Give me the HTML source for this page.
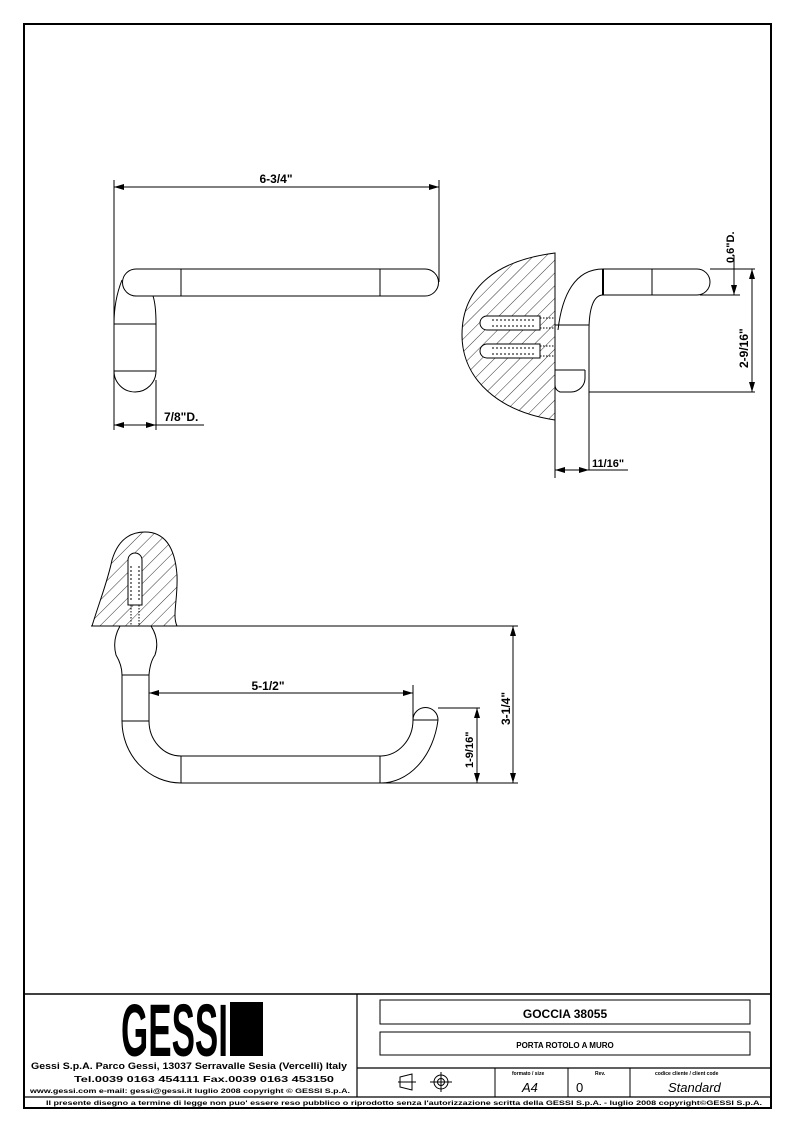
<!DOCTYPE html>
<html><head><meta charset="utf-8"><style>
html,body{margin:0;padding:0;background:#fff}
svg{display:block}
text{font-family:"Liberation Sans",sans-serif;font-weight:bold;fill:#000}
</style></head><body>
<svg width="794" height="1123" viewBox="0 0 794 1123" xmlns="http://www.w3.org/2000/svg">
<defs>
<pattern id="h" patternUnits="userSpaceOnUse" width="9" height="9" patternTransform="rotate(45)">
<line x1="0" y1="0" x2="0" y2="9" stroke="#000" stroke-width="0.8"/>
</pattern>
<marker id="a" markerWidth="10" markerHeight="6" refX="10" refY="3" orient="auto-start-reverse" markerUnits="userSpaceOnUse">
<path d="M0,0 L10,3 L0,6 z" fill="#000"/>
</marker>
</defs>
<g fill="none" stroke="#000">
<rect x="24" y="24" width="747" height="1084" stroke-width="2"/>
<line x1="24" y1="994" x2="771" y2="994" stroke-width="1.5"/>
<line x1="357" y1="994" x2="357" y2="1097" stroke-width="1.2"/>
<line x1="24" y1="1097" x2="771" y2="1097" stroke-width="1.2"/>
<line x1="357" y1="1068" x2="771" y2="1068" stroke-width="1.2"/>
<rect x="380" y="1000" width="370" height="24" stroke-width="1"/>
<rect x="380" y="1032" width="370" height="23" stroke-width="1"/>
<line x1="495" y1="1068" x2="495" y2="1097"/>
<line x1="568" y1="1068" x2="568" y2="1097"/>
<line x1="630" y1="1068" x2="630" y2="1097"/>
<path d="M400,1077 L412,1074 L412,1090 L400,1087 z M398,1082 L416,1082"/>
<circle cx="441" cy="1082" r="7"/><circle cx="441" cy="1082" r="3.5"/>
<path d="M430,1082 H452 M441,1072 V1092"/>

<g stroke-width="1">
<line x1="114" y1="180" x2="114" y2="430"/>
<line x1="439" y1="180" x2="439" y2="282"/>
<line x1="114" y1="187" x2="439" y2="187" marker-start="url(#a)" marker-end="url(#a)"/>
<path d="M136,269 H425 A13.5,13.5 0 0 1 425,296 H136 A13.5,13.5 0 0 1 136,269 z"/>
<line x1="181" y1="269" x2="181" y2="296"/><line x1="380" y1="269" x2="380" y2="296"/>
<path d="M122,280 Q114,300 114,324 V371 A21,21 0 0 0 156,371 V324 Q156,305 153,296"/>
<line x1="114" y1="324" x2="156" y2="324"/><line x1="114" y1="371" x2="156" y2="371"/>
<line x1="156" y1="380" x2="156" y2="430"/>
<line x1="114" y1="425" x2="156" y2="425" marker-start="url(#a)" marker-end="url(#a)"/>
<line x1="156" y1="425" x2="204" y2="425"/>
</g>

<g stroke-width="1">
<path d="M555,253 C500,260 462,285 462,335 C462,380 500,412 555,420 z" fill="url(#h)"/>
<line x1="555" y1="253" x2="555" y2="478"/>
<path d="M487,316 H540 V330 H487 A7,7 0 0 1 487,316 z M487,344 H540 V358 H487 A7,7 0 0 1 487,344 z" fill="#fff"/>
<path d="M492,320 H535 M492,326 H535 M492,348 H535 M492,354 H535" stroke-dasharray="2,2"/>
<path d="M540,318 H555 M540,328 H555 M540,346 H555 M540,356 H555" stroke-dasharray="1.5,1.5"/>
<path d="M558,330 C562,295 575,269 603,269 H697 A13,13 0 0 1 697,295 H603 C593,295 589,310 589,330"/>
<line x1="603" y1="269" x2="603" y2="295" stroke-width="2"/>
<line x1="652" y1="269" x2="652" y2="295"/>
<path d="M555,325 H589 M555,370 H585 M589,330 V470"/>
<path d="M585,370 V378 A14,14 0 0 1 571,392 H560 Q555,390 555,385"/>
<line x1="589" y1="392" x2="755" y2="392"/>
<line x1="710" y1="269" x2="755" y2="269"/>
<line x1="700" y1="295" x2="740" y2="295"/>
<line x1="752" y1="269" x2="752" y2="392" marker-start="url(#a)" marker-end="url(#a)"/>
<line x1="734" y1="255" x2="734" y2="295" marker-end="url(#a)"/>
<line x1="555" y1="470" x2="589" y2="470" marker-start="url(#a)" marker-end="url(#a)"/>
<line x1="589" y1="470" x2="628" y2="470"/>
</g>

<g stroke-width="1">
<path d="M92,626 C100,600 108,580 112,560 C118,540 130,532 145,532 C165,532 175,548 177,575 C178,600 172,615 177,626 z" fill="url(#h)"/>
<path d="M128,560 A7,7 0 0 1 142,560 V605 H128 z" fill="#fff"/>
<path d="M131,566 V600 M139,566 V600" stroke-dasharray="2,2"/>
<path d="M131,605 V625 M139,605 V625" stroke-dasharray="1.5,1.5"/>
<line x1="91" y1="626" x2="518" y2="626"/>
<path d="M120,626 Q112,640 116,655 Q122,665 122,675 V721 A59,62 0 0 0 181,783 H380 A58,75 0 0 0 438,720 A12,12 0 0 0 413,720 A33,36 0 0 1 380,756 H181 A32,35 0 0 1 149,721 V675 Q150,662 155,655 Q160,640 151,626"/>
<path d="M122,675 H149 M122,721 H149 M181,756 V783 M380,756 V783 M413,720 H438"/>
<line x1="149" y1="680" x2="149" y2="700"/>
<line x1="413" y1="685" x2="413" y2="720"/>
<line x1="149" y1="693" x2="413" y2="693" marker-start="url(#a)" marker-end="url(#a)"/>
<line x1="438" y1="708" x2="480" y2="708"/>
<line x1="380" y1="783" x2="518" y2="783"/>
<line x1="477" y1="708" x2="477" y2="783" marker-start="url(#a)" marker-end="url(#a)"/>
<line x1="513" y1="626" x2="513" y2="783" marker-start="url(#a)" marker-end="url(#a)"/>
</g>
</g>

<text x="276" y="183" font-size="12" text-anchor="middle">6-3/4"</text>
<text x="164" y="421" font-size="12">7/8"D.</text>
<text x="592" y="467" font-size="11">11/16"</text>
<text transform="translate(734,263) rotate(-90)" font-size="11">0.6"D.</text>
<text transform="translate(748,368) rotate(-90)" font-size="12">2-9/16"</text>
<text x="268" y="690" font-size="12" text-anchor="middle">5-1/2"</text>
<text transform="translate(473,768) rotate(-90)" font-size="11">1-9/16"</text>
<text transform="translate(510,725) rotate(-90)" font-size="12">3-1/4"</text>

<text transform="translate(121,1056) scale(1,1.85)" font-size="40" textLength="107" lengthAdjust="spacingAndGlyphs">GESSI</text>
<rect x="230" y="1002" width="33" height="54" fill="#000"/>
<text x="31" y="1069" font-size="9" textLength="316" lengthAdjust="spacingAndGlyphs">Gessi S.p.A. Parco Gessi, 13037 Serravalle Sesia (Vercelli) Italy</text>
<text x="74" y="1082" font-size="8.5" textLength="260" lengthAdjust="spacingAndGlyphs">Tel.0039 0163 454111 Fax.0039 0163 453150</text>
<text x="30" y="1093" font-size="6" textLength="320" lengthAdjust="spacingAndGlyphs">www.gessi.com e-mail: gessi@gessi.it   luglio 2008   copyright © GESSI S.p.A.</text>
<text x="565" y="1018" font-size="12" text-anchor="middle">GOCCIA 38055</text>
<text x="565" y="1048" font-size="8" text-anchor="middle">PORTA ROTOLO A MURO</text>
<text x="512" y="1075" font-size="5">formato / size</text>
<text x="595" y="1075" font-size="5">Rev.</text>
<text x="655" y="1075" font-size="5">codice cliente / client code</text>
<text x="522" y="1092" font-size="13" font-style="italic" style="font-weight:normal">A4</text>
<text x="576" y="1092" font-size="13" style="font-weight:normal">0</text>
<text x="668" y="1092" font-size="13" font-style="italic" style="font-weight:normal">Standard</text>
<text x="46" y="1105" font-size="6" textLength="716" lengthAdjust="spacingAndGlyphs">Il presente disegno a termine di legge non puo' essere reso pubblico o riprodotto senza l'autorizzazione scritta della GESSI S.p.A. - luglio 2008 copyright©GESSI S.p.A.</text>
</svg>
</body></html>
